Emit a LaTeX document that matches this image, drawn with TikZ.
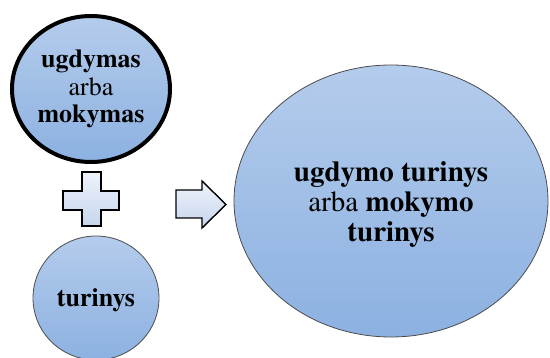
\documentclass[tikz,border=0pt]{standalone}
\usepackage{fontspec}
\setmainfont{texgyretermes}[Extension=.otf, UprightFont=*-regular, BoldFont=*-bold]
\usetikzlibrary{shapes.geometric}
\definecolor{topblue}{RGB}{180,204,236}
\definecolor{botblue}{RGB}{140,177,225}
\definecolor{lighttop}{RGB}{238,243,251}
\definecolor{lightbot}{RGB}{198,213,237}
\begin{document}
\begin{tikzpicture}[x=1pt,y=-1pt,
  blob/.style={ellipse, top color=topblue, bottom color=botblue, inner sep=0pt, align=center},
  signshape/.style={draw=black, line width=1.4pt, top color=lighttop, bottom color=lightbot, line join=miter}]
\useasboundingbox (0,0) rectangle (550,358);
\node[blob, draw=black, line width=4pt, minimum width=158pt, minimum height=146pt,
  font=\fontsize{26}{27.5}\selectfont] (edu) at (91,89)
  {\textbf{ugdymas}\\arba\\\textbf{mokymas}};
\node[blob, draw=gray!60!black, line width=0.8pt, minimum width=126pt, minimum height=124pt] (cont) at (96,298) {};
\node[font=\fontsize{26}{27}\selectfont, inner sep=0pt] (conttext) at ([yshift=-2pt]cont.center) {\textbf{turinys}};
\node[blob, draw=gray!60!black, line width=0.8pt, minimum width=314pt, minimum height=272pt] (res) at (391,201) {};
\node[font=\fontsize{29}{30}\selectfont, align=center, inner sep=0pt] (restext) at ([yshift=-4pt]res.center)
  {\textbf{ugdymo turinys}\\arba \textbf{mokymo}\\\textbf{turinys}};
\draw[signshape] (82,172) -- (101,172) -- (101,191) -- (119,191) -- (119,210) -- (101,210)
  -- (101,226) -- (82,226) -- (82,210) -- (63,210) -- (63,191) -- (82,191) -- cycle;
\draw[signshape] (176,190) -- (202,190) -- (202,181) -- (226,204.5) -- (202,228)
  -- (202,218) -- (176,218) -- cycle;
\end{tikzpicture}
\end{document}
